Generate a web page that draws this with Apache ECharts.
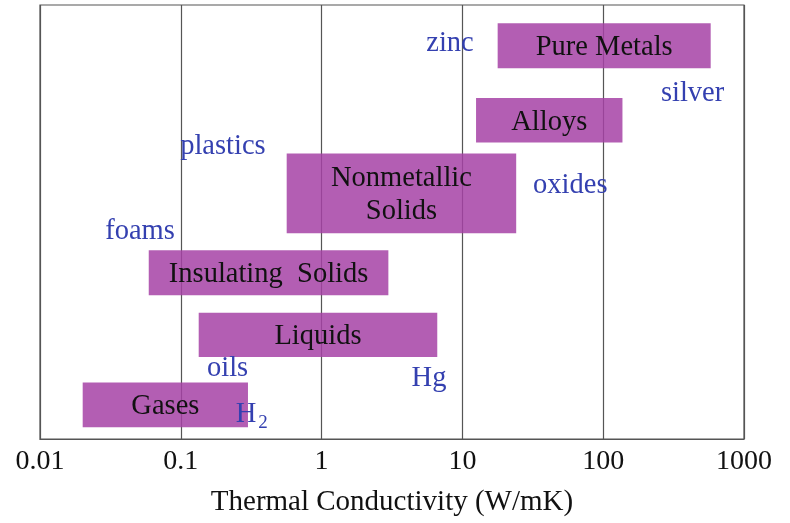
<!DOCTYPE html>
<html>
<head>
<meta charset="utf-8">
<script src="https://cdn.jsdelivr.net/npm/echarts@6/dist/echarts.min.js"></script>
<style>html,body{margin:0;padding:0;background:#fff;}#c{width:790px;height:523px;}</style>
</head>
<body>
<div id="c"></div>
<script>
// Material classes: thermal conductivity range (W/mK) and vertical band (0-10 scale)
var categories = ['Pure Metals', 'Alloys', 'Nonmetallic\nSolids', 'Insulating  Solids', 'Liquids', 'Gases'];
var kLow  = [17.8, 12.5, 0.565, 0.0592, 0.134, 0.0201];
var kHigh = [580, 137, 24.1, 2.98, 6.63, 0.300];
var bandLow  = [8.54, 6.83, 4.74, 3.31, 1.89, 0.27];
var bandHigh = [9.58, 7.86, 6.58, 4.35, 2.91, 1.30];

// Example materials annotations
var examples = ['zinc', 'silver', 'plastics', 'oxides', 'foams', 'oils', 'Hg', 'H2'];
var exampleK = [8.17, 431, 0.199, 58.4, 0.0513, 0.215, 5.79, 0.31];
var exampleY = [9.12, 7.97, 6.74, 5.85, 4.78, 1.63, 1.40, 0.62];

var tickLabels = ['0.01', '0.1', '1', '10', '100', '1000'];
var tickValues = [0.01, 0.1, 1, 10, 100, 1000];

var FONT = '"Liberation Serif", "Times New Roman", serif';
var barData = categories.map(function (c, i) { return [kLow[i], kHigh[i], bandLow[i], bandHigh[i], c]; });
var exData = examples.map(function (e, i) { return [exampleK[i], exampleY[i], e]; });

var chart = echarts.init(document.getElementById('c'), null, {renderer: 'canvas'});
chart.setOption({
  animation: false,
  backgroundColor: '#fff',
  grid: {left: 40, right: 46, top: 5, bottom: 84, show: true, borderColor: '#555', borderWidth: 1.2},
  xAxis: {
    type: 'log', logBase: 10, min: 0.01, max: 1000,
    name: 'Thermal Conductivity (W/mK)', nameLocation: 'middle', nameGap: 49,
    nameTextStyle: {fontFamily: FONT, fontSize: 29, color: '#111'},
    axisLine: {show: true, lineStyle: {color: '#555', width: 1.2}},
    axisTick: {show: false},
    minorTick: {show: false},
    axisLabel: {fontFamily: FONT, fontSize: 28, color: '#111', margin: 9,
      formatter: function (v) {
        for (var i = 0; i < tickValues.length; i++) {
          if (Math.abs(Math.log10(v) - Math.log10(tickValues[i])) < 1e-6) return tickLabels[i];
        }
        return '';
      }},
    splitLine: {show: true, lineStyle: {color: '#555', width: 1.2}}
  },
  yAxis: {type: 'value', min: 0, max: 10, show: false, splitLine: {show: false}},
  series: [
    {
      type: 'custom',
      data: barData,
      encode: {x: [0, 1], y: [2, 3]},
      renderItem: function (params, api) {
        var p1 = api.coord([api.value(0), api.value(3)]);
        var p2 = api.coord([api.value(1), api.value(2)]);
        var name = categories[params.dataIndex];
        return {
          type: 'group',
          children: [
            {type: 'rect', shape: {x: p1[0], y: p1[1], width: p2[0] - p1[0], height: p2[1] - p1[1]},
             style: {fill: 'rgba(166,66,166,0.85)'}},
            {type: 'text', x: (p1[0] + p2[0]) / 2, y: (p1[1] + p2[1]) / 2 + 2,
             style: {text: name, fill: '#111', font: '28.5px ' + FONT, align: 'center', verticalAlign: 'middle', lineHeight: 33}}
          ]
        };
      },
      z: 2
    },
    {
      type: 'custom',
      data: exData,
      encode: {x: 0, y: 1},
      renderItem: function (params, api) {
        var p = api.coord([api.value(0), api.value(1)]);
        var name = examples[params.dataIndex];
        if (name === 'H2') {
          return {
            type: 'group',
            children: [
              {type: 'text', x: p[0] - 4, y: p[1] + 2,
               style: {text: 'H', fill: '#3440b0', font: '28.5px ' + FONT, align: 'center', verticalAlign: 'middle'}},
              {type: 'text', x: p[0] + 13, y: p[1] + 11,
               style: {text: '2', fill: '#3440b0', font: '19px ' + FONT, align: 'center', verticalAlign: 'middle'}}
            ]
          };
        }
        return {type: 'text', x: p[0], y: p[1],
          style: {text: name, fill: '#3440b0', font: '28.5px ' + FONT, align: 'center', verticalAlign: 'middle'}};
      },
      z: 3
    }
  ]
});
</script>
</body>
</html>
